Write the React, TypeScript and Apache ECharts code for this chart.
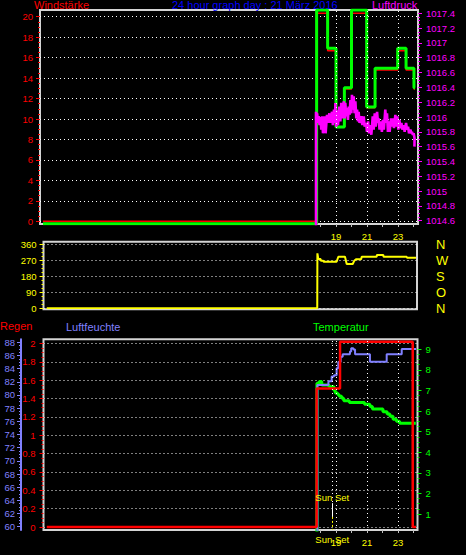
import React, { useEffect, useRef } from 'react';
import * as echarts from 'echarts';

// ---------------- data ----------------
const hourLabels = [19, 21, 23];
const sunsetHour = 18.76;
const sunMarkTop = 0.26; // rain-axis values of the sunset marker segments
const sunMarkMid = 0.11;

// Panel 1: Windstärke (held from each hour)
const windStunden = [0.1, 17.75, 18.46, 19.0, 19.54, 20.0, 20.98, 21.52, 22.98, 23.52, 24.03, 24.1];
const windWerte = [0, 20.33, 16.68, 9.2, 12.94, 20.33, 11.09, 14.79, 16.68, 14.79, 12.94, 12.94];

// Panel 1: Luftdruck (hPa), high / low of each short sample
const druckVorStart = 0;
const druckStunden = [17.71, 17.78, 17.88, 17.99, 18.10, 18.27, 18.42, 18.57, 18.74, 18.87, 18.96, 19.07, 19.22, 19.34, 19.50, 19.60, 19.71, 19.82, 19.93, 20.03, 20.14, 20.25, 20.36, 20.46, 20.64, 20.79, 20.94, 21.07, 21.22, 21.37, 21.50, 21.65, 21.75, 21.90, 22.03, 22.18, 22.29, 22.40, 22.55, 22.68, 22.83, 22.96, 23.09, 23.22, 23.37, 23.52, 23.65, 23.80, 23.90, 24.01];
const druckHoch = [1016.07, 1016.05, 1016.01, 1016.00, 1016.01, 1016.01, 1016.03, 1016.05, 1016.07, 1016.10, 1016.19, 1016.09, 1016.14, 1016.19, 1016.21, 1016.19, 1016.12, 1016.14, 1016.23, 1016.30, 1016.28, 1016.21, 1016.10, 1016.07, 1016.01, 1016.01, 1015.92, 1015.94, 1015.89, 1016.01, 1016.05, 1016.07, 1015.98, 1015.94, 1015.96, 1016.10, 1016.05, 1015.94, 1015.98, 1015.98, 1016.03, 1016.01, 1015.96, 1015.92, 1015.89, 1015.92, 1015.87, 1015.83, 1015.80, 1015.78];
const druckTief = [1015.98, 1015.92, 1015.89, 1015.83, 1015.78, 1015.78, 1015.92, 1015.92, 1015.89, 1015.92, 1015.87, 1015.89, 1015.94, 1015.98, 1015.98, 1016.01, 1015.96, 1016.03, 1016.05, 1016.10, 1016.05, 1015.98, 1015.94, 1015.92, 1015.89, 1015.87, 1015.80, 1015.78, 1015.76, 1015.83, 1015.87, 1015.92, 1015.83, 1015.80, 1015.83, 1015.92, 1015.80, 1015.80, 1015.87, 1015.85, 1015.87, 1015.83, 1015.85, 1015.83, 1015.80, 1015.83, 1015.78, 1015.78, 1015.76, 1015.71];
const druckEnde = [24.06, 1015.6];

// Panel 2: Windrichtung (degrees)
const richtungStunden = [0.34, 17.79, 17.8, 17.86, 18.01, 18.02, 18.18, 18.2, 19.04, 19.15, 19.58, 19.69, 20.08, 20.18, 20.29, 20.62, 20.66, 21.62, 21.64, 22.05, 22.07, 23.56, 23.58, 24.16];
const richtungGrad = [0, 0, 309, 277, 277, 268, 268, 262, 262, 290, 290, 249, 249, 268, 276, 276, 290, 290, 300, 300, 290, 290, 285, 285];

// Panel 3: Regen (mm), Luftfeuchte (%), Temperatur (°C)
const regenStunden = [0.34, 17.75, 19.26, 23.95, 24.16];
const regenWerte = [0, 1.51, 2.02, 0, 0];

const feuchteStunden = [0.34, 17.8, 18.51, 18.72, 18.87, 19.04, 19.15, 19.3, 19.43, 19.9, 19.98, 20.12, 20.23, 21.19, 22.27, 23.24, 24.16];
const feuchteWerte = [0, 81.5, 82.1, 82.8, 83.0, 84.05, 85.0, 85.8, 86.2, 86.6, 87.1, 86.9, 86.2, 85.05, 86.2, 87.0, 87.0];

const tempStunden = [0.34, 17.77, 17.92, 18.08, 18.55, 18.87, 18.95, 19.1, 19.2, 19.37, 19.5, 19.86, 20.84, 21.19, 21.35, 22.03, 22.3, 22.48, 22.68, 22.9, 23.1, 24.15];
const tempWerte = [0, 7.35, 7.43, 7.27, 7.18, 7.0, 6.88, 6.8, 6.72, 6.62, 6.5, 6.41, 6.33, 6.22, 6.1, 5.97, 5.86, 5.75, 5.6, 5.5, 5.41, 5.41];

// ---------------- layout / style ----------------
const FONT = 'Liberation Sans';
const C = {
  red: '#ff0000', green: '#00ff00', magenta: '#ff00ff', yellow: '#ffff00',
  blue: '#0000ff', lav: '#8080ff', frame: '#d4d4d4', dot: '#ffffff', tick: '#c0c0c0',
};
const X0 = 41.5; // px of hour 0
const PXH = 15.5; // px per hour
const hx = (px: number) => (px - X0) / PXH;
const P1 = { l: 40, r: 418, t: 10, b: 224 };
const P2 = { l: 43.5, r: 417, t: 241.7, b: 309.3 };
const P3 = { l: 43.5, r: 417.5, t: 339.3, b: 530 };

function cal(topPx: number, bottomPx: number, v1: number, y1: number, v2: number, y2: number) {
  const k = (v2 - v1) / (y2 - y1);
  return { min: v1 + (bottomPx - y1) * k, max: v1 + (topPx - y1) * k };
}

function grid(l: number, t: number, r: number, b: number, frame = false) {
  return { left: l, top: t, width: r - l, height: b - t, show: frame, borderColor: C.frame, borderWidth: 2, backgroundColor: 'transparent' };
}
const hiddenX = (gi: number, min = 0, max = 1) => ({ type: 'value', gridIndex: gi, show: false, min, max, axisLine: { onZero: false } });
const hiddenY = (gi: number, e = { min: 0, max: 1 }) => ({ type: 'value', gridIndex: gi, show: false, min: e.min, max: e.max, axisLine: { onZero: false } });
const labelY = (gi: number, position: string, min: number, max: number, interval: number, color: string, margin: number, formatter: any, extra: any = {}) => ({
  type: 'value', gridIndex: gi, position, min, max, interval,
  axisLine: { show: false, onZero: false },
  axisTick: { show: true, length: 4, lineStyle: { color } },
  minorTick: { show: true, splitNumber: 4, length: 2, lineStyle: { color } },
  axisLabel: { color, fontSize: 9.5, fontFamily: FONT, margin, formatter },
  splitLine: { show: false },
  ...extra,
});
const dotted = { show: true, lineStyle: { color: C.dot, type: [1, 3], width: 1 } };
const tickX = (gi: number) => ({
  type: 'value', gridIndex: gi, min: 18, max: 24, interval: 1, position: 'bottom',
  axisLine: { show: false, onZero: false },
  axisTick: { show: true, length: 3, lineStyle: { color: C.tick } },
  axisLabel: { color: C.yellow, fontSize: 9.5, fontFamily: FONT, margin: 7, formatter: (v: number) => (hourLabels.includes(v) ? String(v) : '') },
  splitLine: { show: false },
});
const oneDec = (v: number) => String(Math.round(v * 10) / 10);
const compass: Record<number, string> = { 0: 'N', 90: 'O', 180: 'S', 270: 'W', 360: 'N' };

const zip = (a: number[], b: number[]) => a.map((x, i) => [x, b[i]]);

function buildOption() {
  const druckDaten: number[][] = [[druckStunden[0] - 0.01, druckVorStart]];
  druckStunden.forEach((h, i) => { druckDaten.push([h, druckHoch[i]], [h + 0.06, druckTief[i]]); });
  druckDaten.push(druckEnde);

  const rainExt = cal(P3.t, P3.b, 0, 527, 2, 343.5);
  const base = { type: 'line', symbol: 'none', silent: true, animation: false, clip: true };
  const titleText = (text: string, x: number, y: number, fill: string) => ({
    type: 'text', x, y, silent: true,
    style: { text, fill, font: `11px "${FONT}"`, textVerticalAlign: 'middle', verticalAlign: 'middle' },
  });

  return {
    backgroundColor: '#000',
    animation: false,
    textStyle: { fontFamily: FONT },
    graphic: [
      titleText('Windstärke', 34, 5, C.red),
      titleText('24 hour graph day : 21 März 2016', 172, 5, C.blue),
      titleText('Luftdruck', 372, 5, C.magenta),
      titleText('Regen', 0, 326.3, C.red),
      titleText('Luftfeuchte', 66, 326.5, C.lav),
      titleText('Temperatur', 313, 326.5, C.green),
    ],
    grid: [
      grid(P1.l, P1.t, P1.r, P1.b, true), // 0
      grid(P1.l, 16.7, P1.r, 221.3), // 1
      grid(P1.l, 13.3, P1.r, 220.7), // 2
      grid(X0 + 18 * PXH, P1.t, X0 + 24 * PXH, P1.b), // 3
      grid(P2.l, P2.t, P2.r, P2.b, true), // 4
      grid(P2.l, 244.3, P2.r, 308.3), // 5
      grid(P3.l, P3.t, P3.r, P3.b, true), // 6
      grid(P3.l, 343.5, P3.r, 527), // 7
      grid(21, 342.3, P3.r, 526.7), // 8
      grid(P3.l, 349.3, P3.r, 514), // 9
      grid(X0 + 18 * PXH, P3.t, X0 + 24 * PXH, P3.b), // 10
    ],
    xAxis: [
      hiddenX(0, hx(P1.l), hx(P1.r)),
      hiddenX(1), hiddenX(2),
      tickX(3),
      hiddenX(4),
      hiddenX(5, hx(P2.l), hx(P2.r)),
      hiddenX(6, hx(P3.l), hx(P3.r)),
      hiddenX(7), hiddenX(8), hiddenX(9),
      tickX(10),
    ],
    yAxis: [
      hiddenY(0, cal(P1.t, P1.b, 0, 221.3, 20, 16.7)), // 0 red wind
      hiddenY(0, cal(P1.t, P1.b, 0, 223.7, 16.68, 48.3)), // 1 green wind
      hiddenY(0, cal(P1.t, P1.b, 1017.4, 13.3, 1014.6, 220.7)), // 2 pressure
      labelY(1, 'left', 0, 20, 2, C.red, 7, (v: number) => String(v), { splitLine: dotted }), // 3
      labelY(2, 'right', 1014.6, 1017.4, 0.2, C.magenta, 8, oneDec), // 4
      hiddenY(3), // 5
      hiddenY(4), // 6
      labelY(5, 'left', 0, 360, 90, C.yellow, 7, (v: number) => String(v), { splitLine: dotted }), // 7
      {
        type: 'value', gridIndex: 5, position: 'right', min: 0, max: 360, interval: 90,
        axisLine: { show: false, onZero: false }, axisTick: { show: false }, splitLine: { show: false },
        axisLabel: { color: C.yellow, fontSize: 13, fontFamily: FONT, margin: 19, formatter: (v: number) => compass[Math.round(v)] ?? '' },
      }, // 8
      hiddenY(6, rainExt), // 9 rain
      {
        type: 'value', gridIndex: 6, position: 'left', offset: P3.l - 21, show: true,
        ...cal(P3.t, P3.b, 60, 526.7, 88, 342.3),
        axisLine: { show: true, onZero: false, lineStyle: { color: C.lav, width: 2 } },
        axisTick: { show: false }, axisLabel: { show: false }, splitLine: { show: false },
      }, // 10 humidity
      hiddenY(6, cal(P3.t, P3.b, 1, 514, 9, 349.3)), // 11 temp
      labelY(7, 'left', 0, 2, 0.2, C.red, 8, oneDec, { splitLine: dotted }), // 12
      labelY(8, 'left', 60, 88, 2, C.lav, 6, (v: number) => String(v)), // 13
      labelY(9, 'right', 1, 9, 1, C.green, 8, (v: number) => String(v)), // 14
      hiddenY(10), // 15
    ],
    series: [
      {
        ...base, name: 'p1marks', xAxisIndex: 0, yAxisIndex: 0, data: [], z: 1,
        markLine: {
          silent: true, symbol: ['none', 'none'], animation: false,
          label: { show: false },
          lineStyle: { color: C.dot, type: [1, 3], width: 1 },
          data: hourLabels.map((h) => ({ xAxis: h })),
        },
      },
      { ...base, name: 'Windstärke', xAxisIndex: 0, yAxisIndex: 0, step: 'end', data: zip(windStunden, windWerte), lineStyle: { color: C.red, width: 1.5 }, z: 2 },
      { ...base, name: 'Wind2', xAxisIndex: 0, yAxisIndex: 1, step: 'end', data: zip(windStunden, windWerte), lineStyle: { color: C.green, width: 3 }, z: 3 },
      { ...base, name: 'Luftdruck', xAxisIndex: 0, yAxisIndex: 2, data: druckDaten, lineStyle: { color: C.magenta, width: 2.6 }, z: 4 },

      { ...base, name: 'Windrichtung', xAxisIndex: 5, yAxisIndex: 7, data: zip(richtungStunden, richtungGrad), lineStyle: { color: C.yellow, width: 2 }, z: 3 },

      {
        ...base, name: 'p3marks', xAxisIndex: 6, yAxisIndex: 9, data: [], z: 1,
        markLine: {
          silent: true, symbol: ['none', 'none'], animation: false,
          label: { show: false },
          lineStyle: { color: C.dot, type: [1, 3], width: 1 },
          data: [
            ...[sunsetHour, ...hourLabels].map((h) => ({ xAxis: h })),
            [
              { coord: [sunsetHour, sunMarkTop], lineStyle: { type: 'solid', color: '#ffffff', width: 1 }, label: { show: true, position: 'start', formatter: 'Sun Set', color: C.yellow, fontSize: 9.5, fontFamily: FONT, distance: 1 } },
              { coord: [sunsetHour, sunMarkMid] },
            ],
            [
              { coord: [sunsetHour, sunMarkMid], lineStyle: { type: [2, 2], color: C.yellow, width: 1 }, label: { show: true, position: 'end', formatter: 'Sun Set', color: C.yellow, fontSize: 9.5, fontFamily: FONT, distance: 5 } },
              { coord: [sunsetHour, rainExt.min + 0.0005] },
            ],
          ],
        },
      },
      { ...base, name: 'Temperatur', xAxisIndex: 6, yAxisIndex: 11, step: 'end', data: zip(tempStunden, tempWerte), lineStyle: { color: C.green, width: 3 }, z: 2 },
      { ...base, name: 'Luftfeuchte', xAxisIndex: 6, yAxisIndex: 10, step: 'end', data: zip(feuchteStunden, feuchteWerte), lineStyle: { color: C.lav, width: 2 }, z: 3 },
      { ...base, name: 'Regen', xAxisIndex: 6, yAxisIndex: 9, step: 'end', data: zip(regenStunden, regenWerte), lineStyle: { color: C.red, width: 2.5 }, z: 4 },
    ],
  };
}

export default function App() {
  const ref = useRef<HTMLDivElement>(null);
  useEffect(() => {
    document.body.style.margin = '0';
    document.body.style.background = '#000';
    const chart = echarts.init(ref.current!, null, { renderer: 'svg' });
    chart.setOption(buildOption() as any);
    return () => chart.dispose();
  }, []);
  return <div ref={ref} style={{ width: 466, height: 555, background: '#000' }} />;
}
